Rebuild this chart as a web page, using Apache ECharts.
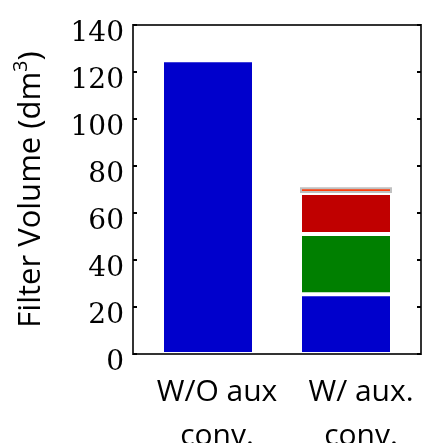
<!DOCTYPE html>
<html><head><meta charset="utf-8">
<script src="https://cdn.jsdelivr.net/npm/echarts@6/dist/echarts.min.js"></script>
<style>html,body{margin:0;padding:0;background:#fff}#c{width:423px;height:443px}</style>
</head><body><div id="c"></div>
<script>
const categories = ['W/O aux\nconv.', 'W/ aux.\nconv.'];
const blueValues = [125, 25.4];
const greenValues = ['-', 25.7];
const redValues = ['-', 17.4];
const orangeValues = ['-', 2.5];
const yTicks = [0, 20, 40, 60, 80, 100, 120, 140];

const chart = echarts.init(document.getElementById('c'), null, {renderer: 'canvas'});
const frame = '#333333';
function seg(name, data, color, border) {
  return {
    name, type: 'bar', stack: 'total', data, barWidth: 92,
    xAxisIndex: 1, yAxisIndex: 2,
    itemStyle: {color, borderColor: border || '#ffffff', borderWidth: 2},
    animation: false
  };
}
chart.setOption({
  animation: false,
  grid: [
    {left: 133, right: 2, top: 25, bottom: 89, show: true, borderColor: frame, borderWidth: 2, backgroundColor: 'transparent', containLabel: false, outerBoundsMode: 'none'},
    {left: 139, right: 8, top: 25, bottom: 89, show: false, containLabel: false, outerBoundsMode: 'none'}
  ],
  xAxis: [{
    gridIndex: 0, type: 'category', data: categories, position: 'bottom', z: 5,
    axisLine: {show: true, lineStyle: {color: frame, width: 2}},
    axisTick: {show: false},
    axisLabel: {interval: 0, fontFamily: 'Open Sans', fontSize: 30, color: '#000', lineHeight: 44, margin: 16, padding: [0, 0, 0, 24]}
  }, {
    gridIndex: 1, type: 'category', data: categories, show: false
  }],
  yAxis: [{
    gridIndex: 0, type: 'value', min: 0, max: 140, interval: 20, position: 'left', z: 5,
    name: '{a|Filter Volume (dm}{s|3}{a|)}', nameLocation: 'middle', nameGap: 86,
    nameTextStyle: {rich: {
      a: {fontFamily: 'Open Sans', fontSize: 31, color: '#000', verticalAlign: 'bottom'},
      s: {fontFamily: 'Open Sans', fontSize: 20, color: '#000', verticalAlign: 'top', padding: [0, 0, 16, 0]}
    }},
    axisLine: {show: true, lineStyle: {color: frame, width: 2}},
    axisTick: {show: true, inside: true, length: 4, lineStyle: {color: '#000', width: 2}},
    splitLine: {show: false},
    axisLabel: {
      margin: 9,
      formatter: v => yTicks.includes(v) ? '{v|' + v + '}' : '',
      rich: {v: {fontFamily: 'DejaVu Serif', fontSize: 28, color: '#000', padding: [17, 0, 0, 0]}}
    }
  }, {
    gridIndex: 0, type: 'value', min: 0, max: 140, interval: 20, position: 'right', z: 5,
    axisLine: {show: true, lineStyle: {color: frame, width: 2}},
    axisTick: {show: true, inside: true, length: 4, lineStyle: {color: '#000', width: 2}},
    splitLine: {show: false}, axisLabel: {show: false}
  }, {
    gridIndex: 1, type: 'value', min: 0, max: 140, interval: 20, show: false,
    splitLine: {show: false}
  }],
  series: [
    seg('Blue', blueValues, '#0000CC'),
    seg('Green', greenValues, '#007F00'),
    seg('Red', redValues, '#C00000'),
    seg('Orange', orangeValues, '#FF4010', '#C0C0C0')
  ]
});
</script></body></html>
